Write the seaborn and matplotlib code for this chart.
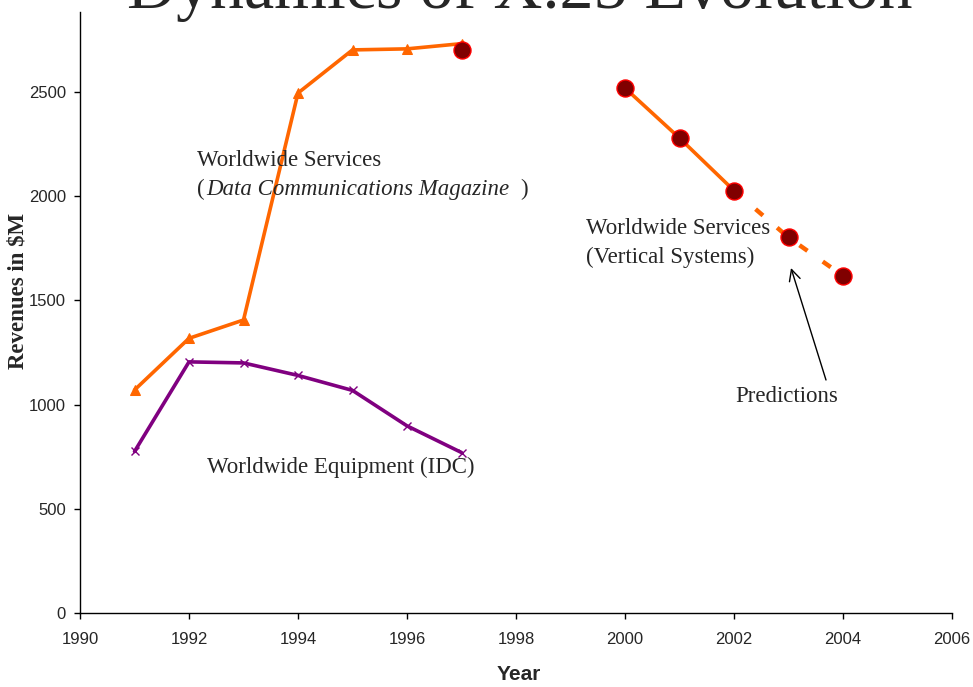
import matplotlib
matplotlib.use("Agg")
import matplotlib.pyplot as plt
import seaborn as sns
from matplotlib.patches import FancyArrowPatch

sns.set_style("white")
plt.rcParams["font.family"] = ["Liberation Sans", "DejaVu Sans"]

# data
dcm_years = [1991, 1992, 1993, 1994, 1995, 1996, 1997]
dcm_values = [1070, 1318, 1406, 2495, 2702, 2707, 2732]

idc_years = [1991, 1992, 1993, 1994, 1995, 1996, 1997]
idc_values = [775, 1205, 1200, 1140, 1068, 898, 770]

vs_years = [2000, 2001, 2002]
vs_values = [2519, 2279, 2027]
pred_years = [2002, 2003, 2004]
pred_values = [2027, 1802, 1618]

dcm_end_year = [1997]
dcm_end_value = [2702]

x_ticks = list(range(1990, 2007, 2))
y_ticks = [0, 500, 1000, 1500, 2000, 2500]

ORANGE = "#FF6600"
PURPLE = "#800080"
DARKRED = "#800000"
RED = "#FF0000"

W, H = 973, 687


def px(x, y):
    return (x / W, 1 - y / H)


fig = plt.figure(figsize=(W / 100, H / 100), dpi=100)
# axis runs from x=80..952 px and y=613..12 px
ax = fig.add_axes([80 / W, (H - 613) / H, 872 / W, 601 / H])

sns.lineplot(x=dcm_years, y=dcm_values, ax=ax, color=ORANGE, lw=2.6,
             marker="^", markersize=7.5, markeredgecolor=ORANGE)
sns.lineplot(x=idc_years, y=idc_values, ax=ax, color=PURPLE, lw=2.6,
             marker="x", markersize=6, markeredgecolor=PURPLE, markeredgewidth=1)
sns.lineplot(x=pred_years, y=pred_values, ax=ax, color=ORANGE, lw=3.2,
             dashes=False, linestyle=(0, (2.2, 4.2)))
sns.lineplot(x=vs_years, y=vs_values, ax=ax, color=ORANGE, lw=2.6)
sns.scatterplot(x=vs_years + pred_years[1:] + dcm_end_year,
                y=vs_values + pred_values[1:] + dcm_end_value,
                ax=ax, color=DARKRED, edgecolor=RED, linewidth=1, s=150, zorder=5)

ax.set_xlim(1990, 2006)
ax.set_ylim(0, 601 / 0.2084)
ax.set_xticks(x_ticks)
ax.set_yticks(y_ticks)
ax.tick_params(axis="both", direction="out", length=4, width=1, color="black",
               labelsize=12, bottom=True, left=True)
ax.tick_params(axis="x", pad=10)
ax.tick_params(axis="y", pad=6)
for side in ["top", "right"]:
    ax.spines[side].set_visible(False)
for side in ["left", "bottom"]:
    ax.spines[side].set_color("black")
    ax.spines[side].set_linewidth(1)

serif = ["Liberation Serif", "DejaVu Serif"]
fig.text(*px(18, 291), "Revenues in $M", rotation=90, ha="center", va="center",
         fontsize=16.5, fontweight="bold", family=serif)
fig.text(*px(519, 674), "Year", ha="center", va="center",
         fontsize=15, fontweight="bold")
fig.text(*px(520, 8), "Dynamics of X.25 Evolution", ha="center", va="baseline",
         fontsize=49, family=serif)

fs = 16.5
fig.text(*px(197, 161), "Worldwide Services", fontsize=fs, family=serif, va="center")
lp = fig.text(*px(197, 189), "(", fontsize=fs, family=serif, va="center")
it = ax.annotate("Data Communications Magazine", xy=(1, 0.5), xycoords=lp,
                 xytext=(1, 0), textcoords="offset points", va="center",
                 fontsize=fs, family=serif, style="italic")
ax.annotate(")", xy=(1, 0.5), xycoords=it, xytext=(8, 0), textcoords="offset points",
            va="center", fontsize=fs, family=serif)
fig.text(*px(207, 467), "Worldwide Equipment (IDC)", fontsize=fs, family=serif, va="center")
fig.text(*px(586, 229), "Worldwide Services", fontsize=fs, family=serif, va="center")
fig.text(*px(586, 257), "(Vertical Systems)", fontsize=fs, family=serif, va="center")
fig.text(*px(735, 396), "Predictions", fontsize=fs, family=serif, va="center")

fig.add_artist(FancyArrowPatch(
    px(826, 380), px(791, 268), transform=fig.transFigure,
    arrowstyle="->,head_length=8,head_width=4", color="black", lw=1,
    shrinkA=0, shrinkB=0))

fig.savefig("out.png", dpi=100)
